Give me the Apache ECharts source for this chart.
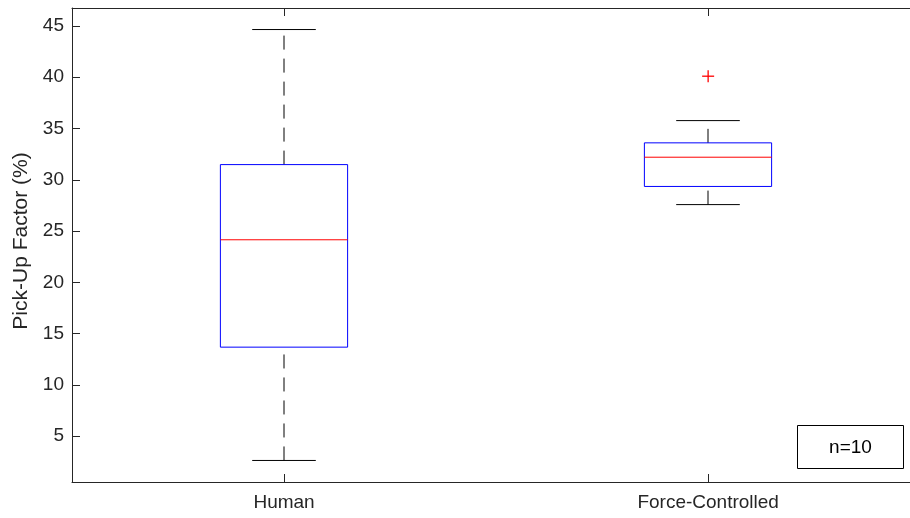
<!DOCTYPE html>
<html>
<head>
<meta charset="utf-8">
<script src="https://cdn.jsdelivr.net/npm/echarts@6/dist/echarts.min.js"></script>
<style>
html,body{margin:0;padding:0;background:#fff;}
#chart{width:910px;height:518px;}
</style>
</head>
<body>
<div id="chart"></div>
<script>
// Data
var categories = ['Human', 'Force-Controlled'];
var positions = [1, 2];
var lowerWhisker = [2.63, 27.58];
var q1 = [13.68, 29.35];
var median = [24.15, 32.2];
var q3 = [31.48, 33.6];
var upperWhisker = [44.65, 35.77];
var outlierPosition = [2];
var outlierValue = [40.1];
var yTicks = [5, 10, 15, 20, 25, 30, 35, 40, 45];
var yMin = 0.53, yMax = 46.75;
var xMin = 0.5, xMax = 2.476; // right part of the axes box falls outside the picture

var FONT = "'Liberation Sans', Arial, Helvetica, sans-serif";
var AX = '#262626';

var boxData = positions.map(function (p, i) {
  return [p, lowerWhisker[i], q1[i], median[i], q3[i], upperWhisker[i]];
});
var outData = outlierPosition.map(function (p, i) { return [p, outlierValue[i]]; });

function renderBox(params, api) {
  var pos = api.value(0);
  var pLo = api.coord([pos, api.value(1)]);
  var pQ1 = api.coord([pos, api.value(2)]);
  var pMed = api.coord([pos, api.value(3)]);
  var pQ3 = api.coord([pos, api.value(4)]);
  var pHi = api.coord([pos, api.value(5)]);
  var unit = api.size([1, 0])[0];
  var bw = unit * 0.3, cw = unit * 0.15;
  var x = Math.round(pMed[0]);
  var dash = [14, 9];
  return {
    type: 'group',
    children: [
      { type: 'line', shape: { x1: x, y1: pLo[1], x2: x, y2: pQ1[1] }, style: { stroke: '#000', lineWidth: 1, lineDash: dash } },
      { type: 'line', shape: { x1: x, y1: pQ3[1], x2: x, y2: pHi[1] }, style: { stroke: '#000', lineWidth: 1, lineDash: dash } },
      { type: 'line', shape: { x1: x - cw / 2, y1: pLo[1], x2: x + cw / 2, y2: pLo[1] }, style: { stroke: '#000', lineWidth: 1 } },
      { type: 'line', shape: { x1: x - cw / 2, y1: pHi[1], x2: x + cw / 2, y2: pHi[1] }, style: { stroke: '#000', lineWidth: 1 } },
      { type: 'rect', shape: { x: x - bw / 2, y: pQ3[1], width: bw, height: pQ1[1] - pQ3[1] }, style: { fill: null, stroke: '#0000ff', lineWidth: 1 } },
      { type: 'line', shape: { x1: x - bw / 2, y1: pMed[1], x2: x + bw / 2, y2: pMed[1] }, style: { stroke: '#ff0000', lineWidth: 1 } }
    ]
  };
}

function renderOutlier(params, api) {
  var p = api.coord([api.value(0), api.value(1)]);
  var s = 6;
  return {
    type: 'group',
    children: [
      { type: 'line', shape: { x1: p[0] - s, y1: p[1], x2: p[0] + s, y2: p[1] }, style: { stroke: '#ff0000', lineWidth: 1.3 } },
      { type: 'line', shape: { x1: p[0], y1: p[1] - s, x2: p[0], y2: p[1] + s }, style: { stroke: '#ff0000', lineWidth: 1.3 } }
    ]
  };
}

function catLabel(v) {
  var i = positions.indexOf(Math.round(v));
  return i >= 0 ? categories[i] : '';
}

var chart = echarts.init(document.getElementById('chart'), null, { renderer: 'canvas' });
chart.setOption({
  animation: false,
  backgroundColor: '#fff',
  grid: { left: 72, top: 8, right: 0, height: 474, containLabel: false },
  xAxis: [
    {
      type: 'value', min: xMin, max: xMax, position: 'bottom',
      axisLine: { show: true, onZero: false, lineStyle: { color: AX, width: 1 } },
      axisTick: { show: true, inside: true, length: 8, customValues: positions, lineStyle: { color: AX } },
      axisLabel: { color: AX, fontSize: 19, fontFamily: FONT, margin: 11, customValues: positions, formatter: catLabel },
      splitLine: { show: false }
    },
    {
      type: 'value', min: xMin, max: xMax, position: 'top',
      axisLine: { show: true, onZero: false, lineStyle: { color: AX, width: 1 } },
      axisTick: { show: true, inside: true, length: 8, customValues: positions, lineStyle: { color: AX } },
      axisLabel: { show: false },
      splitLine: { show: false }
    }
  ],
  yAxis: [
    {
      type: 'value', min: yMin, max: yMax, position: 'left',
      name: 'Pick-Up Factor (%)', nameLocation: 'middle', nameGap: 33, nameRotate: 90,
      nameTextStyle: { color: AX, fontSize: 21, fontFamily: FONT, padding: [0, 0, 0, 8] },
      axisLine: { show: true, onZero: false, lineStyle: { color: AX, width: 1 } },
      axisTick: { show: true, inside: true, length: 8, customValues: yTicks, lineStyle: { color: AX } },
      axisLabel: { color: AX, fontSize: 19, fontFamily: FONT, margin: 8, customValues: yTicks },
      splitLine: { show: false }
    }
  ],
  series: [
    {
      type: 'custom', renderItem: renderBox, data: boxData,
      encode: { x: 0, y: [1, 2, 3, 4, 5] }, xAxisIndex: 0, yAxisIndex: 0, z: 3
    },
    {
      type: 'custom', renderItem: renderOutlier, data: outData,
      encode: { x: 0, y: 1 }, xAxisIndex: 0, yAxisIndex: 0, z: 4
    }
  ],
  graphic: [
    {
      type: 'group', left: 797, top: 425,
      children: [
        { type: 'rect', shape: { x: 0, y: 0, width: 106, height: 43 }, style: { fill: '#fff', stroke: '#000', lineWidth: 1 } },
        { type: 'text', x: 53, y: 22, style: { text: 'n=10', fill: '#000', font: "19px " + FONT, align: 'center', verticalAlign: 'middle' } }
      ]
    }
  ]
});
</script>
</body>
</html>
